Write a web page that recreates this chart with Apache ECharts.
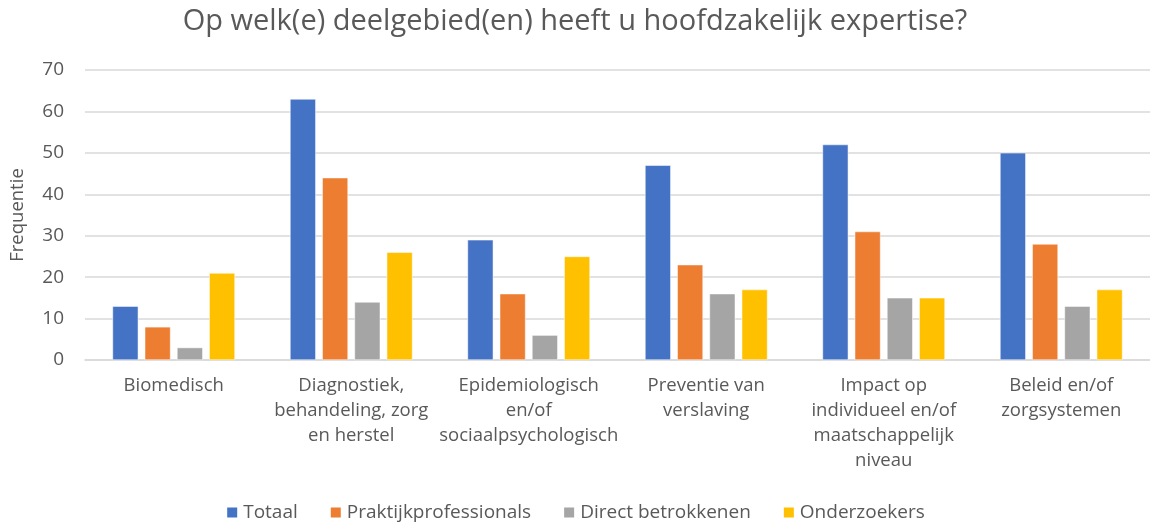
<!DOCTYPE html>
<html>
<head>
<meta charset="utf-8">
<script src="https://cdn.jsdelivr.net/npm/echarts@6/dist/echarts.min.js"></script>
<style>
  html, body { margin: 0; padding: 0; background: #fff; }
  #chart { width: 1150px; height: 524px; }
</style>
</head>
<body>
<div id="chart"></div>
<script>
// categorieen (met regelafbreking zoals in het origineel)
const categories = [
  "Biomedisch",
  "Diagnostiek,\nbehandeling, zorg\nen herstel",
  "Epidemiologisch\nen/of\nsociaalpsychologisch",
  "Preventie van\nverslaving",
  "Impact op\nindividueel en/of\nmaatschappelijk\nniveau",
  "Beleid en/of\nzorgsystemen"
];
const totaal = [13, 63, 29, 47, 52, 50];
const praktijk = [8, 44, 16, 23, 31, 28];
const betrokkenen = [3, 14, 6, 16, 15, 13];
const onderzoekers = [21, 26, 25, 17, 15, 17];

const seriesNames = ["Totaal", "Praktijkprofessionals", "Direct betrokkenen", "Onderzoekers"];
const seriesData = [totaal, praktijk, betrokkenen, onderzoekers];
const colors = ["#4472c4", "#ed7d31", "#a5a5a5", "#ffc000"];

const font = "'Open Sans', Lato, sans-serif";
const chart = echarts.init(document.getElementById("chart"));

const option = {
  color: colors,
  textStyle: { fontFamily: font },
  title: {
    text: "Op welk(e) deelgebied(en) heeft u hoofdzakelijk expertise?",
    left: "center",
    top: 2,
    textStyle: { fontSize: 29, fontWeight: "normal", color: "#595959", fontFamily: font }
  },
  legend: {
    bottom: -3,
    left: "center",
    itemWidth: 12,
    itemHeight: 12,
    itemGap: 31,
    icon: "rect",
    textStyle: { fontSize: 19, color: "#595959", fontFamily: font },
    data: seriesNames
  },
  grid: { left: 83, right: 0, top: 70, bottom: 164 },
  xAxis: {
    type: "category",
    data: categories,
    axisLine: { lineStyle: { color: "#d9d9d9", width: 1.5 } },
    axisTick: { show: false },
    axisLabel: {
      interval: 0,
      color: "#595959",
      fontSize: 18.5,
      lineHeight: 25,
      margin: 13,
      fontFamily: font
    }
  },
  yAxis: {
    type: "value",
    min: 0,
    max: 70,
    interval: 10,
    name: "Frequentie",
    nameLocation: "middle",
    nameGap: 58,
    nameTextStyle: { fontSize: 18.5, color: "#595959", fontFamily: font },
    axisLine: { show: false },
    axisTick: { show: false },
    axisLabel: { color: "#595959", fontSize: 19, margin: 21, fontFamily: font },
    splitLine: { lineStyle: { color: "#d9d9d9", width: 1.5 } }
  },
  series: seriesNames.map((name, i) => ({
    name: name,
    type: "bar",
    data: seriesData[i],
    barGap: "25%",
    barCategoryGap: "31%",
    itemStyle: { borderColor: "#ffffff", borderWidth: 0.5 }
  }))
};

chart.setOption(option);
</script>
</body>
</html>
